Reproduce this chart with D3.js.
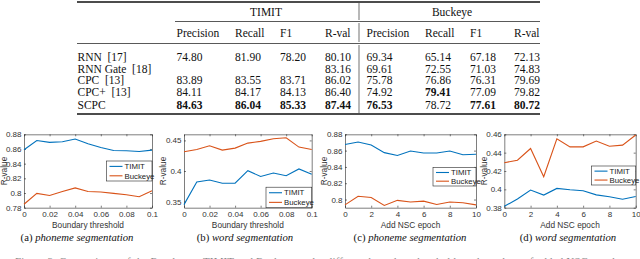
<!DOCTYPE html>
<html>
<head>
<meta charset="utf-8">
<script src="https://cdn.jsdelivr.net/npm/d3@7"></script>
<style>
  body { margin: 0; background: #fff; }
  svg { display: block; }
</style>
</head>
<body>
<svg></svg>
<script>
const width = 640;
const height = 259;
const svg = d3.select("svg").attr("width", width).attr("height", height);

// ---- table data ----
const methods = ["RNN  [17]", "RNN Gate  [18]", "CPC  [13]", "CPC+  [13]", "SCPC"];
const datasets = ["TIMIT", "Buckeye"];
const metricNames = ["Precision", "Recall", "F1", "R-val"];
const timitScores = [
  [74.80, 81.90, 78.20, 80.10],
  [null, null, null, 83.16],
  [83.89, 83.55, 83.71, 86.02],
  [84.11, 84.17, 84.13, 86.40],
  [84.63, 86.04, 85.33, 87.44]
];
const buckeyeScores = [
  [69.34, 65.14, 67.18, 72.13],
  [69.61, 72.55, 71.03, 74.83],
  [75.78, 76.86, 76.31, 79.69],
  [74.92, 79.41, 77.09, 79.82],
  [76.53, 78.72, 77.61, 80.72]
];
// [row, dataset, column] of the best results
const boldCells = [[4,0,0],[4,0,1],[4,0,2],[4,0,3],[3,1,1],[4,1,0],[4,1,2],[4,1,3]];

// ---- chart data ----
const thresholds = [0, 0.01, 0.02, 0.03, 0.04, 0.05, 0.06, 0.07, 0.08, 0.09, 0.1];
const epochs = [0, 1, 2, 3, 4, 5, 6, 7, 8, 9, 10];
const seriesNames = ["TIMIT", "Buckeye"];

const phonemeThrTimit   = [0.859, 0.8715, 0.869, 0.8698, 0.8736, 0.867, 0.862, 0.858, 0.8575, 0.8566, 0.8585];
const phonemeThrBuckeye = [0.7847, 0.7995, 0.7967, 0.802, 0.807, 0.802, 0.8014, 0.7995, 0.7977, 0.795, 0.803];
const wordThrTimit      = [0.345, 0.382, 0.3852, 0.380, 0.380, 0.4005, 0.391, 0.3967, 0.3923, 0.4033, 0.3945];
const wordThrBuckeye    = [0.4314, 0.4352, 0.4413, 0.4342, 0.4374, 0.4456, 0.4484, 0.4527, 0.4544, 0.4391, 0.4352];
const phonemeNscTimit   = [0.8675, 0.8705, 0.867, 0.8575, 0.854, 0.8595, 0.857, 0.857, 0.8595, 0.855, 0.8555];
const phonemeNscBuckeye = [0.7935, 0.804, 0.8026, 0.7927, 0.799, 0.797, 0.798, 0.794, 0.797, 0.796, 0.7935];
const wordNscTimit      = [0.3815, 0.3895, 0.3993, 0.3938, 0.401, 0.3995, 0.3985, 0.394, 0.392, 0.3893, 0.3922];
const wordNscBuckeye    = [0.429, 0.4318, 0.4445, 0.4138, 0.4551, 0.4463, 0.4463, 0.4526, 0.447, 0.4482, 0.4593];

const thrTicks = [0, 0.02, 0.04, 0.06, 0.08, 0.1];
const epochTicks = [0, 2, 4, 6, 8, 10];
const phonemeThrYTicks = [0.78, 0.8, 0.82, 0.84, 0.86, 0.88];
const wordThrYTicks = [0.35, 0.4, 0.45];
const phonemeNscYTicks = [0.8, 0.82, 0.84, 0.86, 0.88];
const wordNscYTicks = [0.38, 0.4, 0.42, 0.44, 0.46];

const captions = [
  ["(a) ", "phoneme segmentation"],
  ["(b) ", "word segmentation"],
  ["(c) ", "phoneme segmentation"],
  ["(d) ", "word segmentation"]
];

const colors = ["#0072BD", "#D95319"];
const serif = "'Liberation Serif', 'Times New Roman', serif";
const sans = "'Liberation Sans', Arial, sans-serif";

// ================= table =================
function drawTable() {
  const g = svg.append("g").attr("font-family", serif).attr("font-size", 11.5).attr("fill", "#111");
  const left = 77, right = 540;
  const labelX = 77.5;
  const colX = [[176.5, 235, 280, 325], [366.5, 425, 470, 514]];
  const rowY = [57, 68.7, 80.3, 91.8, 104.5];
  const sepX = 359;

  g.append("line").attr("x1", left).attr("x2", right).attr("y1", 2).attr("y2", 2)
    .attr("stroke", "#111").attr("stroke-width", 1.3);
  g.append("line").attr("x1", 175).attr("x2", right).attr("y1", 21.5).attr("y2", 21.5)
    .attr("stroke", "#111").attr("stroke-width", 0.7);
  g.append("line").attr("x1", left).attr("x2", right).attr("y1", 43.5).attr("y2", 43.5)
    .attr("stroke", "#111").attr("stroke-width", 0.7);
  g.append("line").attr("x1", left).attr("x2", right).attr("y1", 114).attr("y2", 114)
    .attr("stroke", "#111").attr("stroke-width", 1.3);

  [[3, 20], [23, 42], [45, 113]].forEach(s => {
    g.append("line").attr("x1", sepX).attr("x2", sepX).attr("y1", s[0]).attr("y2", s[1])
      .attr("stroke", "#111").attr("stroke-width", 0.6);
  });

  g.append("text").attr("x", 266).attr("y", 11.5).attr("dy", "0.35em")
    .attr("text-anchor", "middle").text(datasets[0]);
  g.append("text").attr("x", 452).attr("y", 11.5).attr("dy", "0.35em")
    .attr("text-anchor", "middle").text(datasets[1]);

  colX.forEach(cols => {
    cols.forEach((x, i) => {
      g.append("text").attr("x", x).attr("y", 32.5).attr("dy", "0.35em").text(metricNames[i]);
    });
  });

  methods.forEach((m, r) => {
    g.append("text").attr("x", labelX).attr("y", rowY[r]).attr("dy", "0.35em")
      .attr("xml:space", "preserve").style("white-space", "pre").text(m);
    [timitScores, buckeyeScores].forEach((scores, d) => {
      scores[r].forEach((v, c) => {
        if (v === null) return;
        const bold = boldCells.some(b => b[0] === r && b[1] === d && b[2] === c);
        g.append("text").attr("x", colX[d][c]).attr("y", rowY[r]).attr("dy", "0.35em")
          .attr("font-weight", bold ? "bold" : "normal")
          .text(v.toFixed(2));
      });
    });
  });
}

// ================= line panels =================
function drawPanel(p) {
  const g = svg.append("g").attr("font-family", sans);
  const x = d3.scaleLinear().domain(p.xDomain).range([p.x0, p.x1]);
  const y = d3.scaleLinear().domain(p.yDomain).range([p.y1, p.y0]);
  const axisColor = "#262626";
  const fmt = d => String(+d.toFixed(2));

  g.append("rect").attr("x", p.x0).attr("y", p.y0)
    .attr("width", p.x1 - p.x0).attr("height", p.y1 - p.y0)
    .attr("fill", "#fff");

  const bottom = g.append("g").attr("transform", `translate(0,${p.y1})`)
    .call(d3.axisBottom(x).tickValues(p.xTicks).tickFormat(fmt).tickSizeInner(-2).tickSizeOuter(0).tickPadding(4));
  const leftAx = g.append("g").attr("transform", `translate(${p.x0},0)`)
    .call(d3.axisLeft(y).tickValues(p.yTicks).tickFormat(fmt).tickSizeInner(-2).tickSizeOuter(0).tickPadding(2.5));
  const topAx = g.append("g").attr("transform", `translate(0,${p.y0})`)
    .call(d3.axisTop(x).tickValues(p.xTicks).tickFormat("").tickSizeInner(-2).tickSizeOuter(0));
  const rightAx = g.append("g").attr("transform", `translate(${p.x1},0)`)
    .call(d3.axisRight(y).tickValues(p.yTicks).tickFormat("").tickSizeInner(-2).tickSizeOuter(0));

  [bottom, leftAx, topAx, rightAx].forEach(a => {
    a.selectAll("path, line").attr("stroke", axisColor).attr("stroke-width", 0.6);
    a.selectAll("text").attr("fill", "#333").attr("font-family", sans).attr("font-size", 8);
  });

  const line = d3.line().x((d, i) => x(p.xs[i])).y(d => y(d));
  p.series.forEach((s, i) => {
    g.append("path").datum(s).attr("d", line)
      .attr("fill", "none").attr("stroke", colors[i]).attr("stroke-width", 1.1);
  });

  // axis labels
  g.append("text").attr("x", (p.x0 + p.x1) / 2).attr("y", 225.5).attr("dy", "0.35em")
    .attr("text-anchor", "middle").attr("font-size", 8.3).attr("fill", "#333").text(p.xLabel);
  g.append("text")
    .attr("transform", `translate(${p.yLabelX},${(p.y0 + p.y1) / 2}) rotate(-90)`)
    .attr("dy", "0.35em").attr("text-anchor", "middle")
    .attr("font-size", 8.3).attr("fill", "#333").text("R-value");

  // legend
  const lg = p.legend;
  g.append("rect").attr("x", lg.x).attr("y", lg.y).attr("width", lg.w).attr("height", lg.h)
    .attr("fill", "#fff").attr("stroke", axisColor).attr("stroke-width", 0.6);
  seriesNames.forEach((name, i) => {
    const ly = lg.y + lg.h * (i === 0 ? 0.27 : 0.74);
    g.append("line").attr("x1", lg.x + 3).attr("x2", lg.x + 16).attr("y1", ly).attr("y2", ly)
      .attr("stroke", colors[i]).attr("stroke-width", 1.1);
    g.append("text").attr("x", lg.x + 18).attr("y", ly).attr("dy", "0.35em")
      .attr("font-size", 7.8).attr("fill", "#222").text(name);
  });

  // caption
  const cap = svg.append("text").attr("x", p.capX).attr("y", 237.5).attr("dy", "0.35em")
    .attr("text-anchor", "middle").attr("font-family", serif).attr("font-size", 10.7).attr("fill", "#111");
  cap.append("tspan").text(p.caption[0]);
  cap.append("tspan").attr("font-style", "italic").text(p.caption[1]);
}

drawTable();

const yTop = 134.3, yBot = 207.7;
drawPanel({
  x0: 24, x1: 152, y0: yTop, y1: yBot, xDomain: [0, 0.1], yDomain: [0.78, 0.88],
  xs: thresholds, xTicks: thrTicks, yTicks: phonemeThrYTicks,
  series: [phonemeThrTimit, phonemeThrBuckeye], xLabel: "Boundary threshold", yLabelX: 4.5,
  legend: { x: 106.5, y: 161, w: 45.5, h: 20 }, caption: captions[0], capX: 77
});
drawPanel({
  x0: 184, x1: 311.7, y0: yTop, y1: yBot, xDomain: [0, 0.1], yDomain: [0.34, 0.46],
  xs: thresholds, xTicks: thrTicks, yTicks: wordThrYTicks,
  series: [wordThrTimit, wordThrBuckeye], xLabel: "Boundary threshold", yLabelX: 163.5,
  legend: { x: 266, y: 187.2, w: 45.7, h: 20.5 }, caption: captions[1], capX: 245
});
drawPanel({
  x0: 345, x1: 476, y0: yTop, y1: yBot, xDomain: [0, 10], yDomain: [0.79, 0.88],
  xs: epochs, xTicks: epochTicks, yTicks: phonemeNscYTicks,
  series: [phonemeNscTimit, phonemeNscBuckeye], xLabel: "Add NSC epoch", yLabelX: 324,
  legend: { x: 433, y: 167.5, w: 43, h: 18.5 }, caption: captions[2], capX: 410
});
drawPanel({
  x0: 504.3, x1: 635.7, y0: yTop, y1: yBot, xDomain: [0, 10], yDomain: [0.38, 0.46],
  xs: epochs, xTicks: epochTicks, yTicks: wordNscYTicks,
  series: [wordNscTimit, wordNscBuckeye], xLabel: "Add NSC epoch", yLabelX: 484,
  legend: { x: 591.5, y: 166, w: 44.2, h: 19 }, caption: captions[3], capX: 568
});

// the figure caption below is cut off by the image edge
svg.append("text").attr("x", 15).attr("y", 264.5)
  .attr("font-family", serif).attr("font-size", 11).attr("fill", "#888")
  .attr("textLength", 610).attr("lengthAdjust", "spacing")
  .text("Figure 3: Comparisons of the R-value on TIMIT and Buckeye under different boundary thresholds and numbers of added NSC epochs.");
</script>
</body>
</html>
